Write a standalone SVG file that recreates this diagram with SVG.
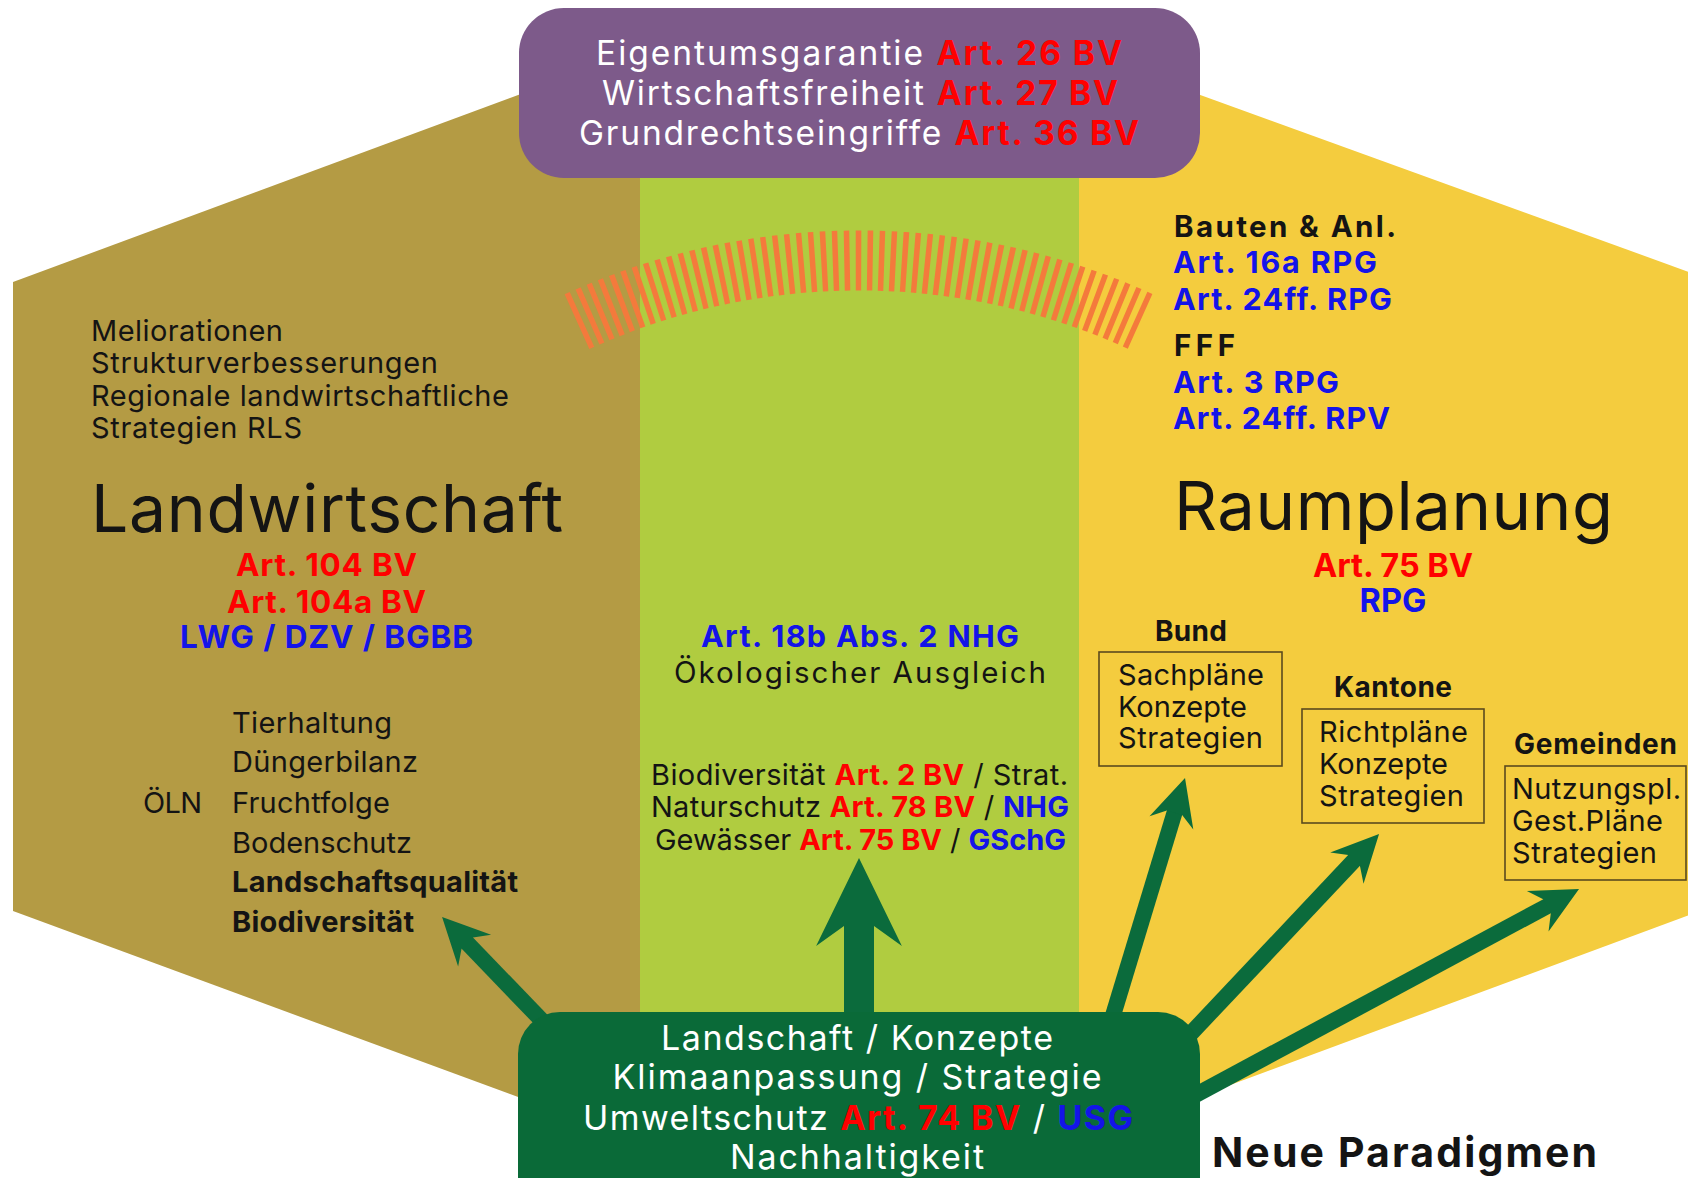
<svg xmlns="http://www.w3.org/2000/svg" width="1688" height="1178" viewBox="0 0 1688 1178">
<style>
text{font-family:Inter,Roboto,"Liberation Sans",sans-serif;fill:#141414}
.b{font-weight:700}
.r{fill:#FF0000;font-weight:700}
.u{fill:#1414E8;font-weight:700}
.w{fill:#ffffff}
.box{fill:none;stroke:#5b4a1e;stroke-width:1.6}
.arrow{stroke:#0B6B3C;fill:none;marker-end:url(#ah)}
.f29{font-size:29px}
.f31{font-size:30.5px}
.f32{font-size:31.5px}
.fp{font-size:33.5px}
.fg{font-size:34px}
</style>
<defs>
<marker id="ah" markerUnits="strokeWidth" viewBox="-3 -1.5 3 3" markerWidth="3" markerHeight="3" refX="-2.2" refY="0" orient="auto" overflow="visible">
<path d="M0,0 L-2.93,1.43 L-2.27,0.5 L-2.27,-0.5 L-2.93,-1.43 Z" fill="#0B6B3C"/>
</marker>
</defs>
<rect width="1688" height="1178" fill="#ffffff"/>
<g id="background">
<polygon points="13,282 640,50 640,1142 13,911" fill="#B49B44"/>
<rect x="640" y="40" width="439" height="1138" fill="#B0CC40"/>
<polygon points="1079,51 1700,276 1700,911 1079,1141" fill="#F4CC3E"/>
</g>
<g id="arc">
<path d="M577,321.7 A680,680 0 0 1 1141,321.7" fill="none" stroke="#F47A3C" stroke-width="60" stroke-dasharray="5.5 6"/>
</g>
<g id="connectors">
<line class="arrow" x1="551" y1="1030" x2="466.5" y2="942.3" stroke-width="16"/>
<line class="arrow" x1="859" y1="1030" x2="859" y2="924" stroke-width="30"/>
<line class="arrow" x1="1108.6" y1="1030" x2="1174.8" y2="811.7" stroke-width="16"/>
<line class="arrow" x1="1180" y1="1045" x2="1354.9" y2="859.6" stroke-width="16"/>
<line class="arrow" x1="1190" y1="1098" x2="1548" y2="905.7" stroke-width="16"/>
</g>
<g id="node-grundrechte">
<rect x="519" y="8" width="681" height="170" rx="45" fill="#7D5A8A"/>
<text class="w fp" x="859" y="65" text-anchor="middle" textLength="526" lengthAdjust="spacing">Eigentumsgarantie <tspan class="r">Art. 26 BV</tspan></text>
<text class="w fp" x="860" y="105" text-anchor="middle" textLength="516" lengthAdjust="spacing">Wirtschaftsfreiheit <tspan class="r">Art. 27 BV</tspan></text>
<text class="w fp" x="859" y="145" text-anchor="middle" textLength="560" lengthAdjust="spacing">Grundrechtseingriffe <tspan class="r">Art. 36 BV</tspan></text>
</g>
<g id="node-landwirtschaft">
<text class="f29" x="91" y="341" textLength="192" lengthAdjust="spacing">Meliorationen</text>
<text class="f29" x="91" y="373" textLength="347" lengthAdjust="spacing">Strukturverbesserungen</text>
<text class="f29" x="91" y="406" textLength="418" lengthAdjust="spacing">Regionale landwirtschaftliche</text>
<text class="f29" x="91" y="438" textLength="211" lengthAdjust="spacing">Strategien RLS</text>
<text x="91" y="532" font-size="66" textLength="472" lengthAdjust="spacing">Landwirtschaft</text>
<text class="r f32" x="326.5" y="576" text-anchor="middle" textLength="181" lengthAdjust="spacing">Art. 104 BV</text>
<text class="r f32" x="326.5" y="613" text-anchor="middle" textLength="199" lengthAdjust="spacing">Art. 104a BV</text>
<text class="u f32" x="326.5" y="648" text-anchor="middle" textLength="293" lengthAdjust="spacing">LWG / DZV / BGBB</text>
</g>
<g id="node-oeln">
<text class="f29" x="143" y="813" textLength="59" lengthAdjust="spacing">ÖLN</text>
<text class="f29" x="232" y="733" textLength="160" lengthAdjust="spacing">Tierhaltung</text>
<text class="f29" x="232" y="772" textLength="186" lengthAdjust="spacing">Düngerbilanz</text>
<text class="f29" x="232" y="813" textLength="158" lengthAdjust="spacing">Fruchtfolge</text>
<text class="f29" x="232" y="853" textLength="180" lengthAdjust="spacing">Bodenschutz</text>
<text class="f29 b" x="232" y="892" textLength="286" lengthAdjust="spacing">Landschaftsqualität</text>
<text class="f29 b" x="232" y="932" textLength="182" lengthAdjust="spacing">Biodiversität</text>
</g>
<g id="node-mitte">
<text class="u f31" x="860" y="647" text-anchor="middle" textLength="318" lengthAdjust="spacing">Art. 18b Abs. 2 NHG</text>
<text x="860" y="683" font-size="29.5" text-anchor="middle" textLength="372" lengthAdjust="spacing">Ökologischer Ausgleich</text>
<text class="f29" x="859.5" y="785" text-anchor="middle" textLength="417" lengthAdjust="spacing">Biodiversität <tspan class="r">Art. 2 BV</tspan> / Strat.</text>
<text class="f29" x="860" y="817" text-anchor="middle" textLength="418" lengthAdjust="spacing">Naturschutz <tspan class="r">Art. 78 BV</tspan> / <tspan class="u">NHG</tspan></text>
<text class="f29" x="860.5" y="850" text-anchor="middle" textLength="411" lengthAdjust="spacing">Gewässer <tspan class="r">Art. 75 BV</tspan> / <tspan class="u">GSchG</tspan></text>
</g>
<g id="node-raumplanung">
<text class="b" x="1174" y="237" font-size="29.5" textLength="222" lengthAdjust="spacing">Bauten &amp; Anl.</text>
<text class="u f31" x="1173" y="273" textLength="204" lengthAdjust="spacing">Art. 16a RPG</text>
<text class="u f31" x="1173" y="310" textLength="219" lengthAdjust="spacing">Art. 24ff. RPG</text>
<text class="b" x="1174" y="356" font-size="29.5" textLength="61" lengthAdjust="spacing">FFF</text>
<text class="u f31" x="1173" y="393" textLength="166" lengthAdjust="spacing">Art. 3 RPG</text>
<text class="u f31" x="1173" y="429" textLength="217" lengthAdjust="spacing">Art. 24ff. RPV</text>
<text x="1174" y="530" font-size="67" textLength="439" lengthAdjust="spacing">Raumplanung</text>
<text class="r" x="1393" y="577" font-size="32.5" text-anchor="middle" textLength="160" lengthAdjust="spacing">Art. 75 BV</text>
<text class="u" x="1393" y="612" font-size="32.5" text-anchor="middle" textLength="67" lengthAdjust="spacing">RPG</text>
</g>
<g id="node-bund">
<text class="b" x="1191" y="641" font-size="28" text-anchor="middle" textLength="72" lengthAdjust="spacing">Bund</text>
<rect class="box" x="1099" y="652" width="183" height="114"/>
<text class="f29" x="1118" y="685" textLength="146" lengthAdjust="spacing">Sachpläne</text>
<text class="f29" x="1118" y="717" textLength="129" lengthAdjust="spacing">Konzepte</text>
<text class="f29" x="1118" y="748" textLength="145" lengthAdjust="spacing">Strategien</text>
</g>
<g id="node-kantone">
<text class="b" x="1393" y="697" font-size="28" text-anchor="middle" textLength="118" lengthAdjust="spacing">Kantone</text>
<rect class="box" x="1302" y="709" width="182" height="114"/>
<text class="f29" x="1319" y="742" textLength="149" lengthAdjust="spacing">Richtpläne</text>
<text class="f29" x="1319" y="774" textLength="129" lengthAdjust="spacing">Konzepte</text>
<text class="f29" x="1319" y="806" textLength="145" lengthAdjust="spacing">Strategien</text>
</g>
<g id="node-gemeinden">
<text class="b" x="1514" y="754" font-size="28" textLength="163" lengthAdjust="spacing">Gemeinden</text>
<rect class="box" x="1505" y="766" width="181" height="114"/>
<text class="f29" x="1512" y="799" textLength="169" lengthAdjust="spacing">Nutzungspl.</text>
<text class="f29" x="1512" y="831" textLength="151" lengthAdjust="spacing">Gest.Pläne</text>
<text class="f29" x="1512" y="863" textLength="145" lengthAdjust="spacing">Strategien</text>
</g>
<g id="node-paradigmen">
<rect x="518" y="1012" width="682" height="210" rx="42" fill="#0A6A38"/>
<text class="w fg" x="857" y="1050" text-anchor="middle" textLength="392" lengthAdjust="spacing">Landschaft / Konzepte</text>
<text class="w fg" x="857" y="1089" text-anchor="middle" textLength="489" lengthAdjust="spacing">Klimaanpassung / Strategie</text>
<text class="w fg" x="858" y="1130" text-anchor="middle" textLength="550" lengthAdjust="spacing">Umweltschutz <tspan class="r">Art. 74 BV</tspan> / <tspan class="u">USG</tspan></text>
<text class="w fg" x="857" y="1169" text-anchor="middle" textLength="254" lengthAdjust="spacing">Nachhaltigkeit</text>
</g>
<g id="label-neue-paradigmen">
<text class="b" x="1212" y="1167" font-size="41" textLength="385" lengthAdjust="spacing">Neue Paradigmen</text>
</g>
</svg>
